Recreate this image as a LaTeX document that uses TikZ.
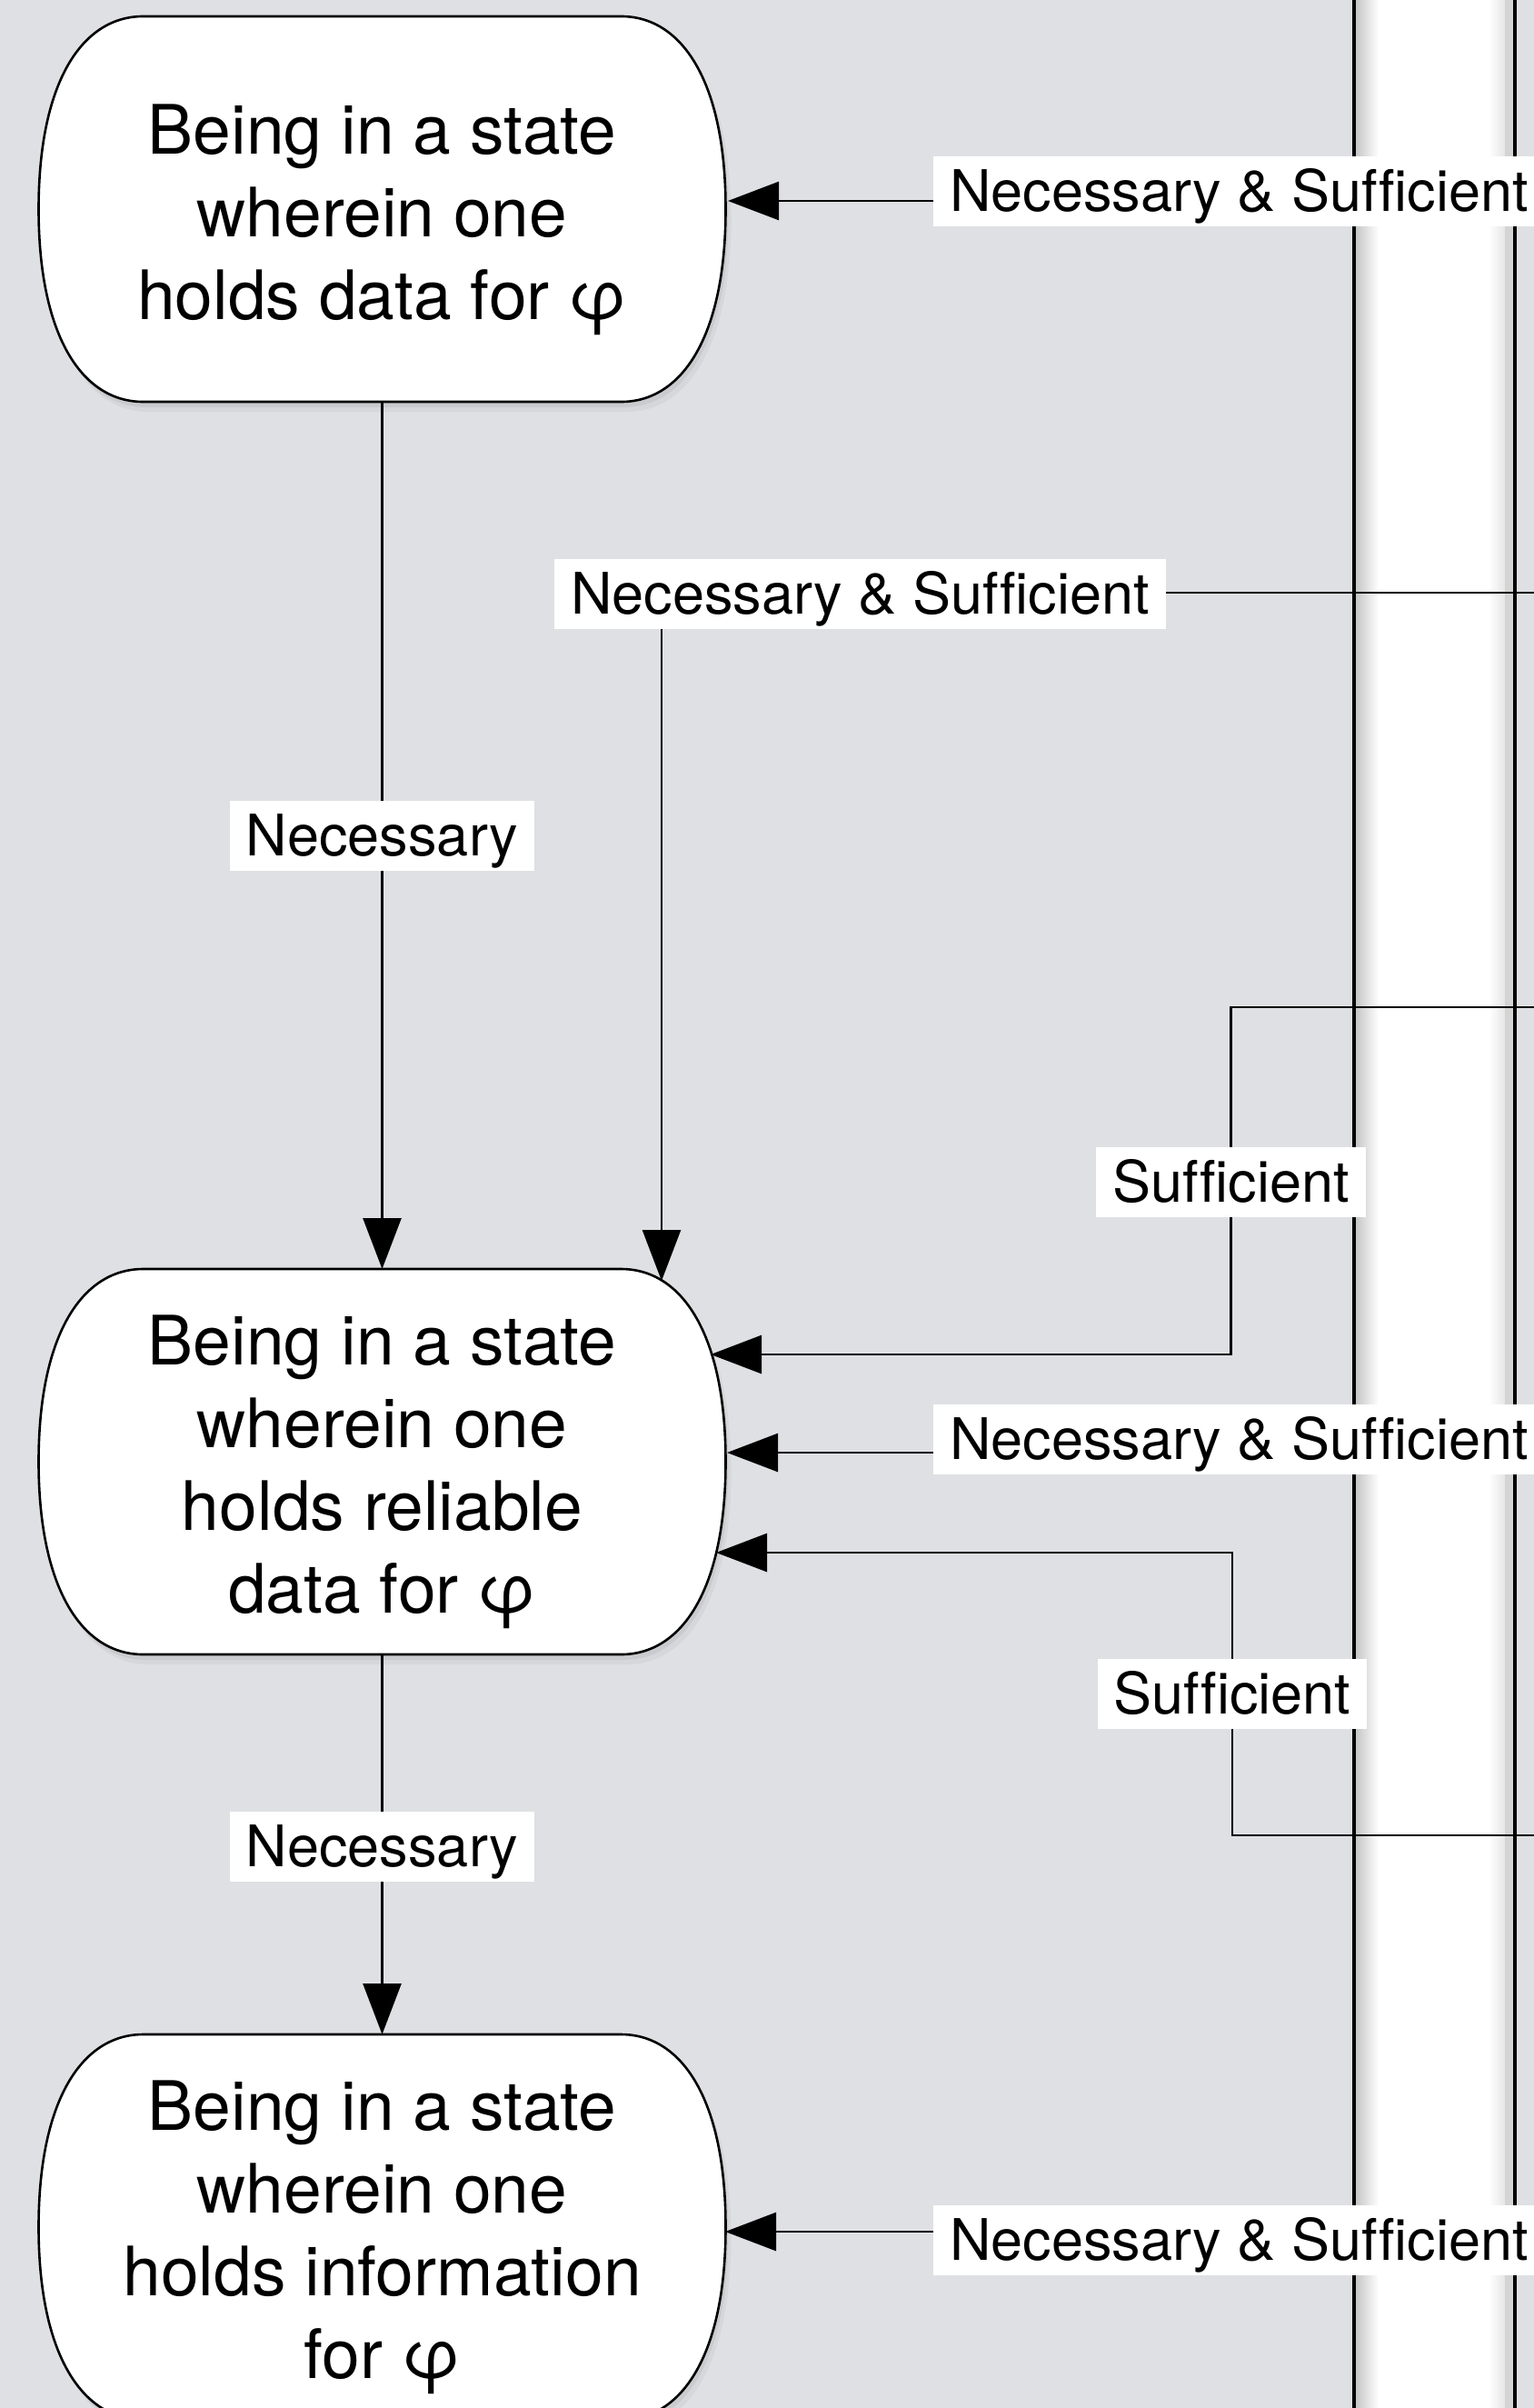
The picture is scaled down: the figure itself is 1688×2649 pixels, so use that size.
\documentclass[tikz,border=0pt]{standalone}
\usepackage{fontspec}
\setmainfont[Ligatures=NoCommon]{TeX Gyre Heros}
\usetikzlibrary{arrows.meta}
\definecolor{bg}{RGB}{223,224,228}
\tikzset{
  conn/.style={line width=2.6pt, draw=black},
  arr/.style={conn, -{Triangle[length=56pt,width=42pt]}},
  lbl/.style={fill=white, inner xsep=18pt, inner ysep=0pt, text height=60.7pt, text depth=16.3pt, font=\fontsize{63}{63}\selectfont},
  nodetext/.style={align=center, inner sep=0pt, font=\fontsize{75}{91}\selectfont},
  barrelline/.style={fill=white, draw=black, line width=2.6pt},
  barrelshape/.pic={
    \fill[black,opacity=0.05,shift={(3,6)}] (-263,-212) -- (263,-212) .. controls (330,-212) and (378,-140) .. (378,0) .. controls (378,140) and (330,212) .. (263,212) -- (-263,212) .. controls (-330,212) and (-378,140) .. (-378,0) .. controls (-378,-140) and (-330,-212) .. (-263,-212) -- cycle;
    \fill[black,opacity=0.04,shift={(6,11)}] (-263,-212) -- (263,-212) .. controls (330,-212) and (378,-140) .. (378,0) .. controls (378,140) and (330,212) .. (263,212) -- (-263,212) .. controls (-330,212) and (-378,140) .. (-378,0) .. controls (-378,-140) and (-330,-212) .. (-263,-212) -- cycle;
    \path[barrelline] (-263,-212) -- (263,-212) .. controls (330,-212) and (378,-140) .. (378,0) .. controls (378,140) and (330,212) .. (263,212) -- (-263,212) .. controls (-330,212) and (-378,140) .. (-378,0) .. controls (-378,-140) and (-330,-212) .. (-263,-212) -- cycle;
  }
}
\begin{document}
\begin{tikzpicture}[x=1pt,y=-1pt]
\useasboundingbox (0,0) rectangle (1688,2649);
\clip (0,0) rectangle (1688,2649);
\fill[bg] (0,0) rectangle (1688,2649);

% white column at the right
\fill[white] (1490,0) rectangle (1667,2649);
\shade[left color=black!24, right color=white] (1490,0) rectangle (1517,2649);
\shade[left color=white, right color=black!10] (1638,0) rectangle (1656,2649);
\fill[black!17] (1656,0) rectangle (1667,2649);
\draw[line width=3.2pt] (1490,0) -- (1490,2649);
\draw[line width=3.2pt] (1667,0) -- (1667,2649);

% state shapes
\pic at (420.5,230) {barrelshape};
\pic at (420.5,1608) {barrelshape};
\pic at (420.5,2450) {barrelshape};

\node[nodetext] (n1) at (420.5,242) {\strut Being in a state\\\strut wherein one\\\strut holds data for φ};
\node[nodetext] (n2) at (420.5,1620) {\strut Being in a state\\\strut wherein one\\\strut holds reliable\\\strut data for φ};
\node[nodetext] (n3) at (420.5,2462) {\strut Being in a state\\\strut wherein one\\\strut holds information\\\strut for φ};

% attachment points on the shapes
\coordinate (n1bot) at (420.5,442);
\coordinate (n1R) at (801,221);
\coordinate (n2top) at (420.5,1396);
\coordinate (n2topR) at (728,1409);
\coordinate (n2Ra) at (782,1490);
\coordinate (n2Rb) at (800,1598);
\coordinate (n2Rc) at (788,1708);
\coordinate (n2bot) at (420.5,1820);
\coordinate (n3top) at (420.5,2238);
\coordinate (n3R) at (798,2455);

% free ends beyond the right border
\coordinate (e1) at (1700,221);
\coordinate (e2) at (1700,652);
\coordinate (e3) at (1700,1108);
\coordinate (e4) at (1700,1598);
\coordinate (e5) at (1700,2019);
\coordinate (e6) at (1700,2455);
\coordinate (k3) at (1354.5,1490);
\coordinate (k5) at (1356,1708);

% connectors
\draw[arr] (e1) -- (n1R);
\draw[arr] (e2) -| (n2topR);
\draw[arr] (n1bot) -- (n2top);
\draw[arr] (e3) -| (k3) -- (n2Ra);
\draw[arr] (e4) -- (n2Rb);
\draw[arr] (e5) -| (k5) -- (n2Rc);
\draw[arr] (n2bot) -- (n3top);
\draw[arr] (e6) -- (n3R);

% labels
\node[lbl, anchor=west] (l1) at (1027,210.5) {Necessary \& Sufficient};
\node[lbl, anchor=west] (l2) at (610,653) {Necessary \& Sufficient};
\node[lbl] (l3) at (420.5,919.5) {Necessary};
\node[lbl] (l4) at (1354.5,1300.5) {Sufficient};
\node[lbl, anchor=west] (l5) at (1027,1583) {Necessary \& Sufficient};
\node[lbl] (l6) at (1356,1863) {Sufficient};
\node[lbl] (l7) at (420.5,2031) {Necessary};
\node[lbl, anchor=west] (l8) at (1027,2464) {Necessary \& Sufficient};
\end{tikzpicture}
\end{document}
